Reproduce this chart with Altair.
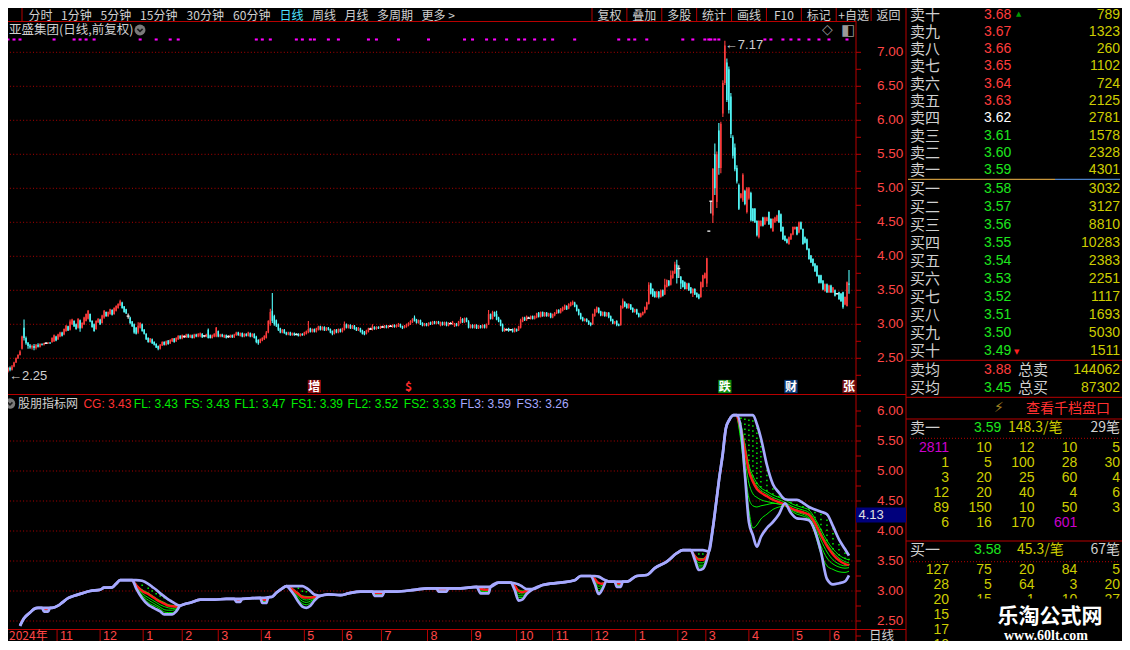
import altair as alt
import pandas as pd
import numpy as np

# ======================= DATA =======================
# daily candles (bar index 0..422)
opens = [2.38, 2.36, 2.31, 2.36, 2.33, 2.38, 2.44, 2.50, 2.55, 2.64,
         2.95, 2.80, 2.73, 2.69, 2.66, 2.68, 2.65, 2.70, 2.67, 2.71,
         2.70, 2.72, 2.72, 2.73, 2.74, 2.75, 2.82, 2.78, 2.82, 2.88,
         2.85, 2.90, 2.97, 2.92, 3.00, 3.05, 3.00, 2.95, 3.06, 2.95,
         3.00, 3.05, 3.08, 3.15, 3.05, 3.00, 2.93, 3.03, 3.07, 3.02,
         3.10, 3.18, 3.12, 3.15, 3.21, 3.15, 3.20, 3.24, 3.28, 3.32,
         3.26, 3.22, 3.12, 3.10, 3.04, 3.00, 2.95, 2.88, 2.95, 3.00,
         2.92, 2.86, 2.80, 2.74, 2.78, 2.74, 2.71, 2.68, 2.64, 2.69,
         2.74, 2.70, 2.76, 2.72, 2.75, 2.79, 2.75, 2.78, 2.83, 2.79,
         2.82, 2.81, 2.85, 2.81, 2.84, 2.80, 2.85, 2.82, 2.83, 2.86,
         2.83, 2.82, 2.92, 2.84, 2.80, 2.82, 2.82, 2.90, 2.82, 2.85,
         2.81, 2.84, 2.82, 2.81, 2.84, 2.81, 2.84, 2.88, 2.83, 2.87,
         2.82, 2.86, 2.83, 2.87, 2.82, 2.86, 2.82, 2.77, 2.73, 2.76,
         2.78, 2.80, 2.88, 3.00, 3.20, 3.12, 3.06, 3.00, 2.94, 2.88,
         2.92, 2.88, 2.85, 2.88, 2.84, 2.87, 2.85, 2.86, 2.83, 2.86,
         2.84, 2.86, 2.88, 2.94, 2.89, 2.93, 2.89, 2.92, 2.97, 2.92,
         2.96, 2.91, 2.95, 2.93, 2.90, 2.86, 2.92, 2.88, 2.93, 2.89,
         2.92, 3.00, 2.95, 2.99, 2.94, 2.98, 2.95, 2.91, 2.94, 2.91,
         2.89, 2.86, 2.89, 2.93, 2.92, 2.96, 2.93, 2.96, 2.94, 2.96,
         2.95, 2.98, 2.95, 2.97, 2.96, 2.99, 2.96, 2.97, 3.00, 2.97,
         2.95, 2.96, 2.98, 3.00, 3.03, 3.10, 3.07, 3.02, 3.06, 3.02,
         2.98, 3.01, 2.98, 3.03, 3.00, 3.04, 3.01, 3.04, 2.98, 3.03,
         2.99, 3.03, 2.98, 3.01, 3.00, 2.97, 3.01, 2.98, 3.02, 3.08,
         3.03, 3.09, 3.04, 2.95, 2.99, 2.95, 2.99, 2.94, 2.98, 2.95,
         2.99, 2.95, 3.00, 3.15, 3.08, 3.18, 3.15, 3.10, 3.06, 3.00,
         2.90, 2.92, 2.94, 2.92, 2.93, 2.89, 2.93, 2.91, 2.95, 3.04,
         3.10, 3.06, 3.09, 3.08, 3.12, 3.08, 3.10, 3.17, 3.11, 3.18,
         3.12, 3.17, 3.12, 3.16, 3.10, 3.13, 3.16, 3.21, 3.17, 3.20,
         3.22, 3.27, 3.23, 3.27, 3.29, 3.32, 3.28, 3.22, 3.16, 3.10,
         3.05, 3.08, 3.05, 3.02, 3.00, 3.12, 3.18, 3.24, 3.19, 3.13,
         3.18, 3.12, 3.17, 3.12, 3.07, 3.01, 3.05, 3.00, 2.99, 3.24,
         3.33, 3.30, 3.24, 3.29, 3.24, 3.18, 3.22, 3.16, 3.11, 3.14,
         3.17, 3.22, 3.30, 3.60, 3.52, 3.48, 3.40, 3.48, 3.40, 3.50,
         3.44, 3.55, 3.64, 3.58, 3.68, 3.75, 3.88, 3.82, 3.70, 3.64,
         3.62, 3.52, 3.60, 3.54, 3.46, 3.52, 3.46, 3.44, 3.40, 3.55,
         3.68, 3.60, 4.37, 4.81, 4.60, 5.50, 4.80, 5.85, 5.30, 6.10,
         6.55, 6.85, 6.75, 6.35, 5.75, 5.60, 5.30, 5.05, 4.86, 4.82,
         4.96, 4.65, 4.85, 4.93, 4.70, 4.70, 4.52, 4.28, 4.45, 4.57,
         4.47, 4.52, 4.65, 4.55, 4.37, 4.50, 4.52, 4.67, 4.62, 4.43,
         4.30, 4.25, 4.18, 4.25, 4.32, 4.40, 4.43, 4.35, 4.50, 4.40,
         4.28, 4.25, 4.11, 4.01, 3.96, 3.89, 3.86, 3.72, 3.72, 3.64,
         3.49, 3.59, 3.47, 3.57, 3.47, 3.50, 3.45, 3.47, 3.45, 3.47,
         3.29, 3.27, 3.60]
closes = [2.36, 2.31, 2.36, 2.33, 2.38, 2.44, 2.50, 2.55, 2.60, 2.82,
          2.80, 2.72, 2.68, 2.66, 2.68, 2.65, 2.70, 2.67, 2.71, 2.70,
          2.72, 2.72, 2.73, 2.72, 2.80, 2.84, 2.76, 2.85, 2.88, 2.83,
          2.93, 2.98, 2.91, 3.04, 3.07, 2.97, 2.93, 3.08, 2.94, 3.02,
          3.10, 3.15, 3.20, 3.04, 2.96, 2.90, 3.05, 3.08, 3.00, 3.13,
          3.20, 3.12, 3.18, 3.22, 3.14, 3.24, 3.27, 3.30, 3.34, 3.24,
          3.18, 3.16, 3.12, 3.02, 2.97, 2.88, 2.86, 2.98, 3.02, 2.90,
          2.86, 2.78, 2.74, 2.79, 2.72, 2.70, 2.66, 2.64, 2.70, 2.74,
          2.70, 2.75, 2.71, 2.77, 2.79, 2.74, 2.80, 2.83, 2.79, 2.84,
          2.82, 2.85, 2.81, 2.84, 2.80, 2.85, 2.82, 2.86, 2.87, 2.81,
          2.83, 2.85, 2.80, 2.80, 2.84, 2.86, 2.95, 2.82, 2.85, 2.82,
          2.84, 2.80, 2.82, 2.84, 2.81, 2.85, 2.88, 2.84, 2.87, 2.82,
          2.86, 2.83, 2.88, 2.82, 2.86, 2.80, 2.74, 2.72, 2.78, 2.80,
          2.83, 2.88, 3.05, 3.18, 3.05, 3.00, 2.98, 2.92, 2.88, 2.92,
          2.87, 2.85, 2.88, 2.84, 2.87, 2.84, 2.85, 2.83, 2.86, 2.84,
          2.88, 2.90, 2.93, 2.89, 2.93, 2.89, 2.94, 2.97, 2.92, 2.96,
          2.91, 2.95, 2.92, 2.88, 2.86, 2.92, 2.88, 2.93, 2.89, 2.94,
          3.00, 2.95, 2.99, 2.94, 2.98, 2.93, 2.91, 2.95, 2.89, 2.86,
          2.85, 2.91, 2.94, 2.93, 2.97, 2.93, 2.96, 2.94, 2.97, 2.96,
          2.98, 2.95, 2.98, 2.97, 2.99, 2.96, 2.99, 3.01, 2.96, 2.94,
          2.98, 3.00, 3.02, 3.05, 3.08, 3.05, 3.02, 3.06, 3.00, 2.98,
          3.01, 2.98, 3.02, 3.00, 3.04, 3.01, 3.04, 3.01, 3.03, 2.99,
          3.03, 2.98, 3.02, 3.01, 3.04, 3.01, 2.98, 3.04, 3.08, 3.03,
          3.09, 3.04, 2.95, 2.99, 2.95, 2.99, 2.94, 2.98, 2.95, 2.99,
          2.95, 3.00, 3.15, 3.08, 3.18, 3.12, 3.07, 3.04, 2.98, 2.90,
          2.94, 2.92, 2.90, 2.92, 2.89, 2.94, 2.90, 2.97, 3.06, 3.10,
          3.06, 3.12, 3.09, 3.12, 3.08, 3.12, 3.16, 3.11, 3.18, 3.12,
          3.17, 3.12, 3.16, 3.10, 3.15, 3.17, 3.21, 3.17, 3.23, 3.25,
          3.28, 3.22, 3.30, 3.32, 3.33, 3.26, 3.20, 3.14, 3.08, 3.05,
          3.08, 3.04, 3.00, 2.99, 3.15, 3.22, 3.25, 3.17, 3.13, 3.18,
          3.12, 3.17, 3.10, 3.05, 3.01, 3.04, 2.99, 2.98, 3.27, 3.35,
          3.26, 3.24, 3.30, 3.22, 3.18, 3.22, 3.15, 3.11, 3.16, 3.18,
          3.25, 3.32, 3.58, 3.45, 3.42, 3.40, 3.48, 3.40, 3.50, 3.42,
          3.58, 3.65, 3.57, 3.72, 3.78, 3.88, 3.68, 3.82, 3.60, 3.55,
          3.52, 3.60, 3.50, 3.46, 3.52, 3.44, 3.40, 3.38, 3.62, 3.72,
          3.75, 3.97, 4.37, 4.81, 5.29, 5.00, 5.50, 5.30, 5.95, 6.55,
          7.10, 6.30, 6.15, 5.80, 5.48, 5.28, 5.10, 4.70, 4.92, 5.20,
          4.77, 5.00, 5.00, 4.53, 4.52, 4.50, 4.31, 4.52, 4.52, 4.45,
          4.57, 4.57, 4.47, 4.42, 4.55, 4.57, 4.60, 4.50, 4.37, 4.25,
          4.23, 4.20, 4.28, 4.33, 4.43, 4.43, 4.32, 4.50, 4.40, 4.18,
          4.20, 4.10, 3.96, 3.91, 3.86, 3.78, 3.71, 3.61, 3.61, 3.51,
          3.59, 3.47, 3.57, 3.47, 3.54, 3.42, 3.45, 3.37, 3.34, 3.25,
          3.40, 3.62, 3.58]
highs = [2.40, 2.37, 2.37, 2.38, 2.40, 2.45, 2.51, 2.56, 2.62, 2.83,
         3.07, 2.82, 2.74, 2.71, 2.70, 2.71, 2.71, 2.72, 2.72, 2.72,
         2.73, 2.74, 2.74, 2.74, 2.81, 2.85, 2.83, 2.86, 2.89, 2.89,
         2.94, 2.99, 2.98, 3.07, 3.08, 3.06, 3.01, 3.09, 3.07, 3.03,
         3.11, 3.16, 3.21, 3.16, 3.06, 3.01, 3.06, 3.09, 3.08, 3.14,
         3.21, 3.19, 3.19, 3.23, 3.22, 3.25, 3.28, 3.31, 3.36, 3.33,
         3.27, 3.23, 3.16, 3.11, 3.05, 3.01, 2.96, 3.03, 3.03, 3.01,
         2.93, 2.87, 2.81, 2.80, 2.79, 2.75, 2.72, 2.69, 2.71, 2.75,
         2.75, 2.76, 2.77, 2.78, 2.80, 2.80, 2.81, 2.84, 2.84, 2.85,
         2.84, 2.86, 2.86, 2.85, 2.85, 2.86, 2.86, 2.87, 2.88, 2.87,
         2.84, 2.86, 2.94, 2.85, 2.85, 2.87, 2.96, 2.91, 2.86, 2.86,
         2.85, 2.85, 2.84, 2.85, 2.85, 2.86, 2.89, 2.89, 2.88, 2.88,
         2.87, 2.87, 2.89, 2.88, 2.87, 2.87, 2.83, 2.78, 2.79, 2.81,
         2.84, 2.90, 3.06, 3.23, 3.46, 3.14, 3.07, 3.01, 2.95, 2.93,
         2.93, 2.89, 2.89, 2.89, 2.88, 2.88, 2.87, 2.87, 2.87, 2.87,
         2.89, 2.91, 3.05, 2.95, 2.94, 2.94, 2.95, 2.98, 2.98, 2.97,
         2.97, 2.96, 2.96, 2.94, 2.91, 2.93, 2.93, 2.94, 2.94, 2.95,
         3.04, 3.01, 3.00, 3.00, 2.99, 2.99, 2.96, 2.96, 2.95, 2.92,
         2.90, 2.92, 2.95, 2.95, 3.00, 2.97, 2.97, 2.97, 2.98, 2.98,
         2.99, 2.99, 2.99, 2.99, 3.00, 3.00, 3.00, 3.02, 3.01, 2.98,
         2.99, 3.01, 3.03, 3.06, 3.09, 3.13, 3.08, 3.07, 3.07, 3.03,
         3.02, 3.02, 3.03, 3.04, 3.05, 3.05, 3.05, 3.05, 3.04, 3.04,
         3.04, 3.04, 3.03, 3.03, 3.05, 3.02, 3.02, 3.05, 3.11, 3.09,
         3.10, 3.10, 3.06, 3.00, 3.00, 3.00, 3.00, 2.99, 2.99, 3.00,
         3.00, 3.01, 3.21, 3.16, 3.20, 3.19, 3.20, 3.11, 3.07, 3.01,
         2.95, 2.94, 2.95, 2.93, 2.94, 2.95, 2.94, 2.98, 3.08, 3.11,
         3.11, 3.13, 3.11, 3.13, 3.13, 3.13, 3.17, 3.18, 3.19, 3.19,
         3.18, 3.18, 3.17, 3.17, 3.16, 3.18, 3.22, 3.22, 3.24, 3.26,
         3.29, 3.28, 3.31, 3.33, 3.35, 3.33, 3.29, 3.23, 3.17, 3.11,
         3.09, 3.09, 3.06, 3.03, 3.16, 3.23, 3.26, 3.25, 3.20, 3.19,
         3.19, 3.18, 3.18, 3.13, 3.08, 3.05, 3.06, 3.01, 3.28, 3.38,
         3.34, 3.31, 3.31, 3.30, 3.25, 3.23, 3.23, 3.17, 3.17, 3.19,
         3.26, 3.33, 3.62, 3.61, 3.53, 3.49, 3.49, 3.49, 3.51, 3.51,
         3.67, 3.66, 3.65, 3.79, 3.79, 3.92, 3.95, 3.87, 3.71, 3.65,
         3.63, 3.61, 3.61, 3.55, 3.53, 3.53, 3.47, 3.45, 3.63, 3.73,
         3.76, 3.98, 4.37, 4.81, 5.29, 5.66, 5.54, 5.96, 5.98, 6.59,
         7.17, 6.91, 6.79, 6.40, 5.78, 5.66, 5.34, 5.07, 4.93, 5.22,
         4.98, 5.02, 5.02, 4.95, 4.71, 4.71, 4.53, 4.53, 4.53, 4.58,
         4.58, 4.58, 4.66, 4.56, 4.56, 4.58, 4.61, 4.68, 4.63, 4.44,
         4.31, 4.26, 4.29, 4.34, 4.44, 4.44, 4.44, 4.51, 4.51, 4.41,
         4.29, 4.26, 4.12, 4.02, 3.97, 3.90, 3.87, 3.73, 3.73, 3.65,
         3.60, 3.60, 3.58, 3.58, 3.55, 3.51, 3.46, 3.48, 3.46, 3.48,
         3.41, 3.63, 3.80]
lows = [2.34, 2.25, 2.29, 2.31, 2.32, 2.37, 2.43, 2.49, 2.54, 2.63,
        2.76, 2.70, 2.64, 2.64, 2.63, 2.62, 2.63, 2.66, 2.66, 2.69,
        2.69, 2.71, 2.71, 2.71, 2.73, 2.74, 2.75, 2.77, 2.81, 2.82,
        2.84, 2.89, 2.90, 2.91, 2.99, 2.96, 2.92, 2.94, 2.89, 2.94,
        2.99, 3.04, 3.07, 3.03, 2.95, 2.89, 2.92, 3.02, 2.99, 3.01,
        3.08, 3.11, 3.11, 3.14, 3.13, 3.14, 3.19, 3.23, 3.27, 3.23,
        3.17, 3.15, 3.08, 3.00, 2.96, 2.86, 2.85, 2.86, 2.94, 2.89,
        2.85, 2.77, 2.73, 2.73, 2.71, 2.69, 2.65, 2.62, 2.63, 2.68,
        2.69, 2.69, 2.70, 2.71, 2.74, 2.73, 2.74, 2.77, 2.78, 2.78,
        2.80, 2.80, 2.80, 2.80, 2.79, 2.79, 2.81, 2.81, 2.81, 2.80,
        2.81, 2.81, 2.79, 2.79, 2.79, 2.81, 2.81, 2.81, 2.81, 2.81,
        2.80, 2.79, 2.80, 2.80, 2.80, 2.80, 2.83, 2.83, 2.82, 2.81,
        2.81, 2.82, 2.82, 2.81, 2.81, 2.79, 2.72, 2.70, 2.72, 2.75,
        2.77, 2.79, 2.87, 2.98, 3.02, 2.98, 2.96, 2.90, 2.87, 2.87,
        2.86, 2.84, 2.84, 2.83, 2.83, 2.83, 2.84, 2.82, 2.82, 2.83,
        2.83, 2.85, 2.87, 2.88, 2.88, 2.88, 2.88, 2.91, 2.91, 2.91,
        2.90, 2.90, 2.91, 2.87, 2.84, 2.85, 2.87, 2.87, 2.88, 2.88,
        2.91, 2.94, 2.94, 2.93, 2.93, 2.92, 2.90, 2.90, 2.88, 2.85,
        2.84, 2.85, 2.88, 2.92, 2.91, 2.92, 2.92, 2.93, 2.93, 2.95,
        2.94, 2.94, 2.94, 2.96, 2.95, 2.95, 2.95, 2.96, 2.95, 2.93,
        2.94, 2.95, 2.97, 2.99, 3.02, 3.04, 3.01, 3.01, 2.99, 2.97,
        2.97, 2.97, 2.97, 2.99, 2.99, 3.00, 3.00, 3.00, 2.97, 2.98,
        2.98, 2.97, 2.97, 3.00, 2.99, 2.96, 2.97, 2.97, 3.01, 3.02,
        3.02, 3.03, 2.94, 2.94, 2.94, 2.94, 2.93, 2.93, 2.94, 2.94,
        2.94, 2.94, 2.99, 3.07, 3.07, 3.11, 3.06, 3.03, 2.97, 2.89,
        2.89, 2.91, 2.89, 2.91, 2.88, 2.88, 2.89, 2.90, 2.94, 3.03,
        3.05, 3.05, 3.08, 3.07, 3.07, 3.07, 3.09, 3.10, 3.10, 3.11,
        3.11, 3.11, 3.11, 3.09, 3.09, 3.12, 3.15, 3.16, 3.16, 3.19,
        3.21, 3.21, 3.22, 3.26, 3.28, 3.25, 3.19, 3.13, 3.07, 3.04,
        3.04, 3.03, 2.99, 2.97, 2.99, 3.11, 3.17, 3.16, 3.12, 3.12,
        3.11, 3.11, 3.09, 3.04, 3.00, 3.00, 2.97, 2.97, 2.98, 3.23,
        3.25, 3.23, 3.23, 3.21, 3.17, 3.17, 3.14, 3.10, 3.10, 3.13,
        3.16, 3.21, 3.29, 3.44, 3.40, 3.39, 3.39, 3.38, 3.39, 3.41,
        3.43, 3.54, 3.56, 3.57, 3.67, 3.74, 3.60, 3.68, 3.52, 3.54,
        3.51, 3.51, 3.49, 3.45, 3.40, 3.43, 3.39, 3.37, 3.39, 3.54,
        3.67, 3.55, 4.37, 4.63, 4.49, 4.90, 4.71, 5.20, 5.22, 6.05,
        6.52, 6.27, 6.10, 5.74, 5.44, 5.25, 5.07, 4.68, 4.85, 4.80,
        4.75, 4.63, 4.83, 4.51, 4.51, 4.49, 4.29, 4.26, 4.44, 4.44,
        4.46, 4.51, 4.46, 4.41, 4.36, 4.49, 4.51, 4.49, 4.36, 4.24,
        4.22, 4.19, 4.17, 4.24, 4.31, 4.39, 4.31, 4.34, 4.39, 4.17,
        4.19, 4.09, 3.95, 3.90, 3.85, 3.77, 3.70, 3.60, 3.60, 3.50,
        3.48, 3.46, 3.46, 3.46, 3.46, 3.41, 3.44, 3.36, 3.33, 3.23,
        3.28, 3.26, 3.45]

# magenta signal marks (bar index)
signal_bars = [0, 2, 5, 8, 25, 35, 38, 41, 45, 68, 76, 83, 87, 126, 129, 133, 146, 149,
               153, 155, 162, 167, 182, 186, 197, 212, 230, 234, 241, 245, 251, 257, 260,
               265, 270, 274, 285, 307, 312, 315, 321, 339, 344, 350, 352, 353, 355, 357,
               380, 383, 389, 393, 397, 402, 407, 412, 421]

# month boundaries (bar index) and their labels
month_i = [-1, 26.5, 48, 69.5, 89, 107, 128.5, 150, 169, 188.5, 211.5, 233.5, 256, 274,
           293.5, 315.5, 336.5, 350.5, 372, 394, 412.5]
month_lbl = ["2024年", "11", "12", "1", "2", "3", "4", "5", "6", "7", "8", "9", "10", "11",
             "12", "1", "2", "3", "4", "5", "6"]

# event badges
event_i = [155, 202, 360, 393, 422]
event_lbl = ["增", "$", "跌", "财", "张"]
event_kind = ["inc", "div", "fall", "fin", "inc2"]

price_ticks_main = [7.0, 6.5, 6.0, 5.5, 5.0, 4.5, 4.0, 3.5, 3.0, 2.5]
price_ticks_ind = [6.0, 5.5, 5.0, 4.5, 4.0, 3.5, 3.0, 2.5]

# indicator: collapsed lavender line (all lines equal)
lav_i = [8, 10, 13, 15, 17, 24, 27, 29, 32, 35, 39, 43, 48, 50, 54, 56, 58, 61, 90, 93, 98,
         105, 111, 124, 134, 136, 139, 162, 168, 172, 178, 196, 205, 212, 228, 247, 269, 278,
         285, 288, 302, 311, 316, 321, 325, 331, 336, 339, 354, 355.5, 357.2, 358.9, 360.5,
         362.2, 364.4]
lav_v = [2.42, 2.545, 2.64, 2.70, 2.72, 2.72, 2.755, 2.805, 2.88, 2.92, 2.96, 3.00, 3.02,
         3.055, 3.06, 3.12, 3.18, 3.18, 2.78, 2.805, 2.855, 2.855, 2.87, 2.88, 2.905, 2.97,
         3.045, 2.945, 2.93, 2.96, 2.99, 2.99, 3.02, 3.045, 3.045, 3.14, 3.10, 3.14, 3.18,
         3.25, 3.155, 3.155, 3.25, 3.267, 3.38, 3.49, 3.63, 3.68, 4.045, 4.43, 4.88, 5.27,
         5.71, 5.85, 5.93]

# indicator: segments where the band opens
seg_names = ["E", "A", "F", "G", "B", "H", "I", "J", "C", "K", "L", "D", "M"]
seg_i = [[19, 20, 22, 23],
         [64, 66, 69, 72, 74, 76, 78, 80, 82, 84, 86, 88],
         [115, 116, 118, 119],
         [128, 129, 131, 132],
         [141, 143, 145, 147, 149, 151, 153, 155, 158],
         [184, 185, 189, 190],
         [216, 217, 221, 222],
         [236, 238, 240, 242, 243],
         [253, 255, 257, 259, 261, 264],
         [293, 295, 297, 299, 301],
         [305, 306, 308, 309],
         [343, 345, 347, 349, 351, 352],
         [366, 368, 370, 372, 374, 376, 378, 381, 384, 387, 390, 393, 396, 399, 402, 405,
          408, 411, 414, 417, 420, 422]]
seg_fl3 = [[2.72, 2.72, 2.72, 2.72],
           [3.18, 3.18, 3.17, 3.12, 3.07, 3.02, 2.96, 2.91, 2.86, 2.82, 2.78, 2.755],
           [2.87, 2.87, 2.87, 2.87],
           [2.885, 2.885, 2.89, 2.895],
           [3.08, 3.08, 3.08, 3.08, 3.08, 3.05, 3.00, 2.94, 2.92],
           [2.99, 2.99, 2.99, 2.99],
           [3.045, 3.045, 3.045, 3.045],
           [3.07, 3.07, 3.07, 3.07, 3.07],
           [3.14, 3.13, 3.11, 3.07, 3.03, 3.03],
           [3.25, 3.25, 3.24, 3.20, 3.17],
           [3.155, 3.155, 3.155, 3.155],
           [3.68, 3.68, 3.68, 3.68, 3.665, 3.655],
           [5.93, 5.93, 5.93, 5.93, 5.93, 5.78, 5.55, 5.10, 4.78, 4.64, 4.53, 4.52, 4.52,
            4.47, 4.40, 4.36, 4.32, 4.28, 4.08, 3.86, 3.70, 3.59]]
seg_fl2 = [[2.72, 2.72, 2.72, 2.72],
           [3.18, 3.11, 3.02, 2.97, 2.925, 2.88, 2.84, 2.81, 2.775, 2.76, 2.75, 2.755],
           [2.87, 2.87, 2.87, 2.87],
           [2.885, 2.885, 2.89, 2.895],
           [3.08, 3.065, 3.02, 2.97, 2.92, 2.91, 2.905, 2.91, 2.92],
           [2.99, 2.99, 2.99, 2.99],
           [3.045, 3.045, 3.045, 3.045],
           [3.07, 3.07, 3.07, 3.07, 3.07],
           [3.14, 3.10, 3.02, 3.00, 3.01, 3.03],
           [3.25, 3.25, 3.24, 3.20, 3.17],
           [3.155, 3.155, 3.155, 3.155],
           [3.68, 3.60, 3.545, 3.54, 3.60, 3.655],
           [5.93, 5.78, 5.45, 5.10, 4.92, 4.80, 4.72, 4.66, 4.60, 4.56, 4.52, 4.46, 4.42,
            4.39, 4.35, 4.21, 4.02, 3.84, 3.70, 3.60, 3.54, 3.52]]
seg_fl1 = [[2.72, 2.72, 2.72, 2.72],
           [3.18, 3.105, 3.01, 2.96, 2.915, 2.87, 2.83, 2.80, 2.765, 2.75, 2.745, 2.755],
           [2.87, 2.87, 2.87, 2.87],
           [2.885, 2.885, 2.89, 2.895],
           [3.08, 3.06, 3.01, 2.96, 2.91, 2.90, 2.90, 2.905, 2.92],
           [2.99, 2.99, 2.99, 2.99],
           [3.045, 3.045, 3.045, 3.045],
           [3.07, 3.07, 3.07, 3.07, 3.07],
           [3.14, 3.095, 3.01, 2.99, 3.005, 3.03],
           [3.25, 3.25, 3.24, 3.20, 3.17],
           [3.155, 3.155, 3.155, 3.155],
           [3.68, 3.59, 3.53, 3.53, 3.59, 3.655],
           [5.93, 5.74, 5.40, 5.05, 4.87, 4.75, 4.68, 4.62, 4.56, 4.52, 4.48, 4.42, 4.38,
            4.35, 4.31, 4.17, 3.97, 3.79, 3.65, 3.55, 3.49, 3.47]]
seg_cg = [[2.72, 2.70, 2.695, 2.72],
          [3.18, 3.10, 3.00, 2.95, 2.905, 2.86, 2.82, 2.79, 2.755, 2.745, 2.74, 2.755],
          [2.87, 2.855, 2.85, 2.87],
          [2.885, 2.86, 2.85, 2.895],
          [3.08, 3.055, 3.00, 2.95, 2.90, 2.89, 2.89, 2.90, 2.92],
          [2.99, 2.97, 2.965, 2.99],
          [3.045, 3.03, 3.025, 3.045],
          [3.07, 3.04, 3.02, 3.02, 3.07],
          [3.14, 3.09, 3.00, 2.98, 3.00, 3.03],
          [3.25, 3.20, 3.13, 3.12, 3.17],
          [3.155, 3.13, 3.125, 3.155],
          [3.68, 3.58, 3.52, 3.52, 3.58, 3.655],
          [5.93, 5.70, 5.35, 5.00, 4.82, 4.70, 4.64, 4.58, 4.52, 4.48, 4.44, 4.38, 4.34,
           4.31, 4.27, 4.13, 3.93, 3.75, 3.61, 3.51, 3.45, 3.43]]
seg_fs = [[2.72, 2.685, 2.68, 2.72],
          [3.18, 3.08, 2.96, 2.89, 2.85, 2.81, 2.77, 2.74, 2.72, 2.71, 2.72, 2.755],
          [2.87, 2.845, 2.84, 2.87],
          [2.885, 2.845, 2.835, 2.895],
          [3.08, 3.05, 2.98, 2.92, 2.87, 2.85, 2.86, 2.88, 2.92],
          [2.99, 2.96, 2.955, 2.99],
          [3.045, 3.02, 3.015, 3.045],
          [3.07, 3.02, 3.00, 3.00, 3.07],
          [3.14, 3.07, 2.96, 2.95, 2.99, 3.03],
          [3.25, 3.18, 3.08, 3.10, 3.17],
          [3.155, 3.11, 3.105, 3.155],
          [3.68, 3.56, 3.47, 3.47, 3.56, 3.655],
          [5.93, 5.65, 5.20, 4.80, 4.62, 4.56, 4.52, 4.49, 4.47, 4.45, 4.42, 4.37, 4.33,
           4.30, 4.25, 4.08, 3.85, 3.65, 3.52, 3.45, 3.42, 3.43]]
seg_fs1 = [[2.72, 2.675, 2.67, 2.72],
           [3.18, 3.07, 2.93, 2.85, 2.81, 2.77, 2.73, 2.69, 2.68, 2.68, 2.70, 2.755],
           [2.87, 2.835, 2.83, 2.87],
           [2.885, 2.83, 2.82, 2.895],
           [3.08, 3.04, 2.96, 2.89, 2.83, 2.81, 2.83, 2.87, 2.92],
           [2.99, 2.945, 2.94, 2.99],
           [3.045, 3.01, 3.005, 3.045],
           [3.07, 3.00, 2.985, 2.99, 3.07],
           [3.14, 3.05, 2.92, 2.92, 2.97, 3.03],
           [3.25, 3.16, 3.04, 3.08, 3.17],
           [3.155, 3.095, 3.09, 3.155],
           [3.68, 3.55, 3.43, 3.43, 3.55, 3.655],
           [5.93, 5.55, 5.00, 4.55, 4.42, 4.40, 4.42, 4.44, 4.46, 4.45, 4.42, 4.36, 4.31,
            4.28, 4.22, 4.02, 3.75, 3.55, 3.45, 3.40, 3.38, 3.39]]
seg_fs2 = [[2.72, 2.665, 2.66, 2.72],
           [3.18, 3.06, 2.91, 2.81, 2.77, 2.74, 2.70, 2.65, 2.64, 2.64, 2.68, 2.755],
           [2.87, 2.83, 2.825, 2.87],
           [2.885, 2.815, 2.81, 2.895],
           [3.08, 3.03, 2.95, 2.86, 2.79, 2.77, 2.80, 2.86, 2.92],
           [2.99, 2.93, 2.93, 2.99],
           [3.045, 3.00, 2.995, 3.045],
           [3.07, 2.985, 2.97, 2.975, 3.07],
           [3.14, 3.04, 2.89, 2.89, 2.96, 3.03],
           [3.25, 3.14, 3.00, 3.06, 3.17],
           [3.155, 3.08, 3.08, 3.155],
           [3.68, 3.53, 3.40, 3.40, 3.54, 3.655],
           [5.93, 5.50, 4.90, 4.35, 4.05, 4.10, 4.20, 4.28, 4.36, 4.40, 4.42, 4.34, 4.28,
            4.25, 4.20, 3.95, 3.62, 3.42, 3.36, 3.32, 3.31, 3.33]]
seg_fs3 = [[2.72, 2.655, 2.655, 2.72],
           [3.18, 3.045, 2.88, 2.77, 2.73, 2.695, 2.66, 2.61, 2.61, 2.61, 2.66, 2.755],
           [2.87, 2.82, 2.82, 2.87],
           [2.885, 2.80, 2.80, 2.895],
           [3.08, 3.02, 2.93, 2.82, 2.74, 2.72, 2.755, 2.84, 2.92],
           [2.99, 2.92, 2.92, 2.99],
           [3.045, 2.99, 2.99, 3.045],
           [3.07, 2.96, 2.96, 2.96, 3.07],
           [3.14, 3.02, 2.84, 2.86, 2.95, 3.03],
           [3.25, 3.12, 2.95, 3.04, 3.17],
           [3.155, 3.07, 3.07, 3.155],
           [3.68, 3.52, 3.35, 3.37, 3.52, 3.655],
           [5.93, 5.71, 4.95, 4.15, 3.93, 3.74, 3.90, 4.05, 4.15, 4.28, 4.46, 4.30, 4.21,
            4.20, 4.18, 4.00, 3.65, 3.20, 3.11, 3.13, 3.16, 3.26]]

legend_names = ["CG", "FL", "FS", "FL1", "FS1", "FL2", "FS2", "FL3", "FS3"]
legend_vals = [3.43, 3.43, 3.43, 3.47, 3.39, 3.52, 3.33, 3.59, 3.26]
legend_kind = ["cg", "g", "g", "g", "g", "g", "g", "lav", "lav"]

# order book
prev_close = 3.62
sell_lbl = ["卖十", "卖九", "卖八", "卖七", "卖六", "卖五", "卖四", "卖三", "卖二", "卖一"]
sell_px = [3.68, 3.67, 3.66, 3.65, 3.64, 3.63, 3.62, 3.61, 3.60, 3.59]
sell_vol = [789, 1323, 260, 1102, 724, 2125, 2781, 1578, 2328, 4301]
buy_lbl = ["买一", "买二", "买三", "买四", "买五", "买六", "买七", "买八", "买九", "买十"]
buy_px = [3.58, 3.57, 3.56, 3.55, 3.54, 3.53, 3.52, 3.51, 3.50, 3.49]
buy_vol = [3032, 3127, 8810, 10283, 2383, 2251, 1117, 1693, 5030, 1511]
avg_lbl = ["卖均", "买均"]
avg_px = [3.88, 3.45]
tot_lbl = ["总卖", "总买"]
tot_vol = [144062, 87302]
sell_queue = [2811, 10, 12, 10, 5, 1, 5, 100, 28, 30, 3, 20, 25, 60, 4,
              12, 20, 40, 4, 6, 89, 150, 10, 50, 3, 6, 16, 170, 601]
buy_queue = [127, 75, 20, 84, 5, 28, 5, 64, 3, 20, 20, 15, 1, 10, 27,
             15, None, None, None, None, 17, None, None, None, None, 10, None, None, None, None]

toolbar_left = ["分时", "1分钟", "5分钟", "15分钟", "30分钟", "60分钟", "日线", "周线", "月线", "多周期", "更多 >"]
toolbar_right = ["复权", "叠加", "多股", "统计", "画线", "F10", "标记", "+自选", "返回"]

# ======================= STYLE / LAYOUT =======================
OX, OY = 8, 8          # page margin: reference pixel -> chart pixel
W, H = 1114, 633


def X(v):
    return v - OX


def Y(v):
    return v - OY


BG = "#000000"
FRAME = "#b80000"
GRID = "#b00000"
AXRED = "#ff4646"
UP = "#ff3c3c"
DOWN = "#54fcfc"
FLAT = "#f0f0f0"
LAV = "#a6a9ff"
CGC = "#ff1a1a"
GRN = "#00f000"
MAG = "#ff00ff"
TXT = "#d0d0d0"
YEL = "#cdcd00"
BGRN = "#1ee61e"
BRED = "#ff3c3c"
ACT = "#4fe3ff"
CJK = "Noto Sans CJK SC"
NUM = "Liberation Sans"


def sc(domain, rng):
    return alt.Scale(domain=domain, range=rng, nice=False, zero=False)


XB = sc([0, 422], [X(4), X(849)])
YM = sc([2.5, 7.0], [Y(358.3), Y(52.3)])
YI = sc([2.5, 6.0], [Y(621.0), Y(411.0)])
DIRS = alt.Scale(domain=["up", "down", "flat"], range=[UP, DOWN, FLAT])

ONE = pd.DataFrame({"k": [0]})
layers = []


def text_at(s, x, y, color=TXT, size=12, font=CJK, align="left", weight="normal"):
    return alt.Chart(pd.DataFrame({"t": [s]})).mark_text(
        align=align, baseline="middle", color=color, fontSize=size, font=font,
        fontWeight=weight).encode(x=alt.value(X(x)), y=alt.value(Y(y)), text="t:N")


def hline(y, x1, x2, color=FRAME, w=1.0, dash=None):
    kw = dict(color=color, strokeWidth=w)
    if dash:
        kw["strokeDash"] = dash
    return alt.Chart(ONE).mark_rule(**kw).encode(
        x=alt.value(X(x1)), x2=alt.value(X(x2)), y=alt.value(Y(y)))


def vline(x, y1, y2, color=FRAME, w=1.0):
    return alt.Chart(ONE).mark_rule(color=color, strokeWidth=w).encode(
        x=alt.value(X(x)), y=alt.value(Y(y1)), y2=alt.value(Y(y2)))


def box(x1, x2, y1, y2, fill):
    return alt.Chart(ONE).mark_rect(color=fill).encode(
        x=alt.value(X(x1)), x2=alt.value(X(x2)), y=alt.value(Y(y1)), y2=alt.value(Y(y2)))


def est_w(s, cjk=12.0, asc=7.0, sp=3.5):
    w = 0.0
    for ch in s:
        if ord(ch) > 0x2E80:
            w += cjk
        elif ch == " ":
            w += sp
        else:
            w += asc
    return w


# ---------------- frame lines ----------------
layers += [
    hline(21.5, 0, 856),
    vline(22, 0, 21),
    vline(856, 21, 646),
    vline(906, 0, 650),
    hline(394.5, 0, 906),
    hline(629.5, 0, 906),
    hline(646, 0, 906),
]

# ---------------- toolbar ----------------
TB_Y = 16.0
xpos = 28.6
for lbl in toolbar_left:
    layers.append(text_at(lbl, xpos, TB_Y, ACT if lbl == "日线" else TXT, size=12))
    xpos += est_w(lbl) + 8.5

BTN = alt.Scale(domain=toolbar_right, range=[X(592), X(906)], paddingInner=0, paddingOuter=0)
tdf = pd.DataFrame({"b": toolbar_right})
layers.append(alt.Chart(tdf).mark_rule(color=FRAME).encode(
    x=alt.X("b:N", scale=BTN, axis=None, bandPosition=0),
    y=alt.value(Y(0)), y2=alt.value(Y(21))))
layers.append(alt.Chart(tdf).mark_text(font=CJK, fontSize=12, color=TXT, baseline="middle").encode(
    x=alt.X("b:N", scale=BTN, axis=None, bandPosition=0.5),
    y=alt.value(Y(TB_Y)), text="b:N"))

# ---------------- title row ----------------
layers.append(text_at("亚盛集团(日线,前复权)", 9, 30, TXT, size=12.5))
layers.append(alt.Chart(ONE).mark_point(shape="circle", filled=True, size=120, color="#7a7a7a", opacity=1).encode(
    x=alt.value(X(140)), y=alt.value(Y(30))))
layers.append(alt.Chart(ONE).mark_point(shape="M-0.55,-0.25L0,0.3L0.55,-0.25", filled=False, size=90,
                                        color="#1a1a1a", strokeWidth=1.6, opacity=1).encode(
    x=alt.value(X(140)), y=alt.value(Y(30))))
layers.append(text_at("◇", 822, 29.5, "#9a9a9a", size=14, font="DejaVu Sans"))
layers.append(text_at("◧", 841, 29.5, "#9a9a9a", size=15, font="DejaVu Sans"))

# ---------------- main panel grid / axis ----------------
mg = pd.DataFrame({"p": price_ticks_main})
layers.append(alt.Chart(mg).mark_rule(color=GRID, strokeDash=[1, 2.3], strokeWidth=1).encode(
    y=alt.Y("p:Q", scale=YM, axis=None), x=alt.value(X(0)), x2=alt.value(X(855))))
layers.append(alt.Chart(mg).mark_text(align="left", baseline="middle", font=NUM, fontSize=13.5, color=AXRED).encode(
    y=alt.Y("p:Q", scale=YM, axis=None), x=alt.value(X(877)), text=alt.Text("p:Q", format=".2f")))
mticks = pd.DataFrame({"p": [p - 0.25 for p in price_ticks_main] + price_ticks_main})
layers.append(alt.Chart(mticks).mark_rule(color=FRAME).encode(
    y=alt.Y("p:Q", scale=YM, axis=None), x=alt.value(X(856)), x2=alt.value(X(861))))

# ---------------- candles ----------------
n = min(len(opens), len(highs), len(lows), len(closes))
cdf = pd.DataFrame({"i": np.arange(n), "o": opens[:n], "h": highs[:n], "l": lows[:n], "c": closes[:n]})
cdf["d"] = np.where(cdf["c"] > cdf["o"], "up", np.where(cdf["c"] < cdf["o"], "down", "flat"))
xi = alt.X("i:Q", scale=XB, axis=None)
dcol = alt.Color("d:N", scale=DIRS, legend=None)
layers.append(alt.Chart(cdf).mark_rule(strokeWidth=1.1).encode(
    x=xi, y=alt.Y("l:Q", scale=YM, axis=None), y2="h:Q", color=dcol))
layers.append(alt.Chart(cdf).mark_rule(strokeWidth=1.5).encode(
    x=xi, y=alt.Y("o:Q", scale=YM, axis=None), y2="c:Q", color=dcol))
layers.append(alt.Chart(cdf).transform_filter("datum.d == 'flat'").mark_point(
    shape="M-1,-0.45L1,-0.45L1,0.45L-1,0.45Z", filled=True, size=9, opacity=1).encode(
    x=xi, y=alt.Y("c:Q", scale=YM, axis=None), color=dcol))

# extreme labels
lo_i = int(np.argmin(cdf["l"]))
hi_i = int(np.argmax(cdf["h"]))
ext = pd.DataFrame({"i": [lo_i, hi_i], "p": [cdf["l"].iloc[lo_i], cdf["h"].iloc[hi_i]],
                    "t": ["←%.2f" % cdf["l"].iloc[lo_i], "←%.2f" % cdf["h"].iloc[hi_i]]})
layers.append(alt.Chart(ext.iloc[[0]]).mark_text(align="left", baseline="middle", font=NUM, fontSize=13,
                                                color=TXT, dx=3, dy=1).encode(
    x=xi, y=alt.Y("p:Q", scale=YM, axis=None), text="t:N"))
layers.append(alt.Chart(ext.iloc[[1]]).mark_text(align="left", baseline="middle", font=NUM, fontSize=13,
                                                color=TXT, dx=0, dy=4).encode(
    x=xi, y=alt.Y("p:Q", scale=YM, axis=None), text="t:N"))

# magenta signal row
sdf = pd.DataFrame({"i": signal_bars})
layers.append(alt.Chart(sdf).mark_point(shape="M-1,-0.7L1,-0.7L1,0.7L-1,0.7Z", filled=True, size=9,
                                        color=MAG, opacity=1).encode(x=xi, y=alt.value(Y(39.5))))

# event badges
edf = pd.DataFrame({"i": event_i, "t": event_lbl, "k": event_kind})
EVB = alt.Scale(domain=["inc", "div", "fall", "fin", "inc2"],
                range=["#8c0c0c", "#000000", "#0c8a0c", "#0c3c7c", "#7c1010"])
EVT = alt.Scale(domain=["inc", "div", "fall", "fin", "inc2"],
                range=["#ffffff", "#ff2a2a", "#ffffff", "#ffffff", "#ffffff"])
layers.append(alt.Chart(edf).transform_filter("datum.k != 'div'").mark_point(
    shape="square", filled=True, size=175, opacity=1).encode(
    x=xi, y=alt.value(Y(386.5)), color=alt.Color("k:N", scale=EVB, legend=None)))
layers.append(alt.Chart(edf).mark_text(font=CJK, fontSize=12, baseline="middle", fontWeight="bold").encode(
    x=xi, y=alt.value(Y(386.5)), text="t:N", color=alt.Color("k:N", scale=EVT, legend=None)))

# ---------------- indicator panel ----------------
ig = pd.DataFrame({"p": [p for p in price_ticks_ind if p < 6.0]})
layers.append(alt.Chart(ig).mark_rule(color=GRID, strokeDash=[1, 2.3], strokeWidth=1).encode(
    y=alt.Y("p:Q", scale=YI, axis=None), x=alt.value(X(0)), x2=alt.value(X(855))))
il = pd.DataFrame({"p": price_ticks_ind})
layers.append(alt.Chart(il).mark_text(align="left", baseline="middle", font=NUM, fontSize=13.5, color=AXRED).encode(
    y=alt.Y("p:Q", scale=YI, axis=None), x=alt.value(X(877)), text=alt.Text("p:Q", format=".2f")))
iticks = pd.DataFrame({"p": [p - 0.25 for p in price_ticks_ind] + price_ticks_ind})
layers.append(alt.Chart(iticks).mark_rule(color=FRAME).encode(
    y=alt.Y("p:Q", scale=YI, axis=None), x=alt.value(X(856)), x2=alt.value(X(861))))

rows = []
for name, ii, a3, a2, a1, c0, s0, s1, s2, s3 in zip(seg_names, seg_i, seg_fl3, seg_fl2, seg_fl1, seg_cg,
                                                     seg_fs, seg_fs1, seg_fs2, seg_fs3):
    m = min(len(ii), len(a3), len(a2), len(a1), len(c0), len(s0), len(s1), len(s2), len(s3))
    for k in range(m):
        rows.append(dict(seg=name, i=ii[k], fl3=a3[k], fl2=a2[k], fl1=a1[k], cg=c0[k],
                         fs=s0[k], fs1=s1[k], fs2=s2[k], fs3=s3[k]))
bdf = pd.DataFrame(rows)
lav = pd.DataFrame({"i": lav_i, "v": lav_v})
upper = pd.concat([lav, bdf[["i", "fl3"]].rename(columns={"fl3": "v"})]).sort_values("i").reset_index(drop=True)
lower = pd.concat([lav, bdf[["i", "fs3"]].rename(columns={"fs3": "v"})]).sort_values("i").reset_index(drop=True)

# dotted region between CG and FL3
layers.append(alt.Chart(bdf).transform_filter("datum.fl3 - datum.cg > 0.03").mark_rule(
    color=GRN, strokeWidth=1.5, strokeDash=[1.5, 3.5]).encode(
    x=xi, y=alt.Y("cg:Q", scale=YI, axis=None), y2="fl3:Q"))
# green FL/FS lines
layers.append(alt.Chart(bdf).transform_fold(["fl2", "fl1", "fs", "fs1", "fs2"], as_=["key", "val"]).mark_line(
    color=GRN, strokeWidth=1, interpolate="monotone").encode(
    x=xi, y=alt.Y("val:Q", scale=YI, axis=None), detail=["seg:N", "key:N"]))
# CG red
layers.append(alt.Chart(bdf).mark_line(color=CGC, strokeWidth=2.4, interpolate="monotone").encode(
    x=xi, y=alt.Y("cg:Q", scale=YI, axis=None), detail="seg:N"))
# lavender envelope
layers.append(alt.Chart(lower).mark_line(color=LAV, strokeWidth=2.7, interpolate="monotone").encode(
    x=xi, y=alt.Y("v:Q", scale=YI, axis=None)))
layers.append(alt.Chart(upper).mark_line(color=LAV, strokeWidth=2.7, interpolate="monotone").encode(
    x=xi, y=alt.Y("v:Q", scale=YI, axis=None)))

# indicator header
layers.append(alt.Chart(ONE).mark_point(shape="circle", filled=True, size=110, color="#7a7a7a", opacity=1).encode(
    x=alt.value(X(10)), y=alt.value(Y(403.5))))
layers.append(alt.Chart(ONE).mark_point(shape="M-0.55,-0.25L0,0.3L0.55,-0.25", filled=False, size=80,
                                        color="#1a1a1a", strokeWidth=1.5, opacity=1).encode(
    x=alt.value(X(10)), y=alt.value(Y(403.5))))
layers.append(text_at("股朋指标网", 18, 403.5, TXT, size=12))
LEGC = {"cg": "#ff3232", "g": "#00ee00", "lav": "#a6a9ff"}
xpos = 83.4
for nm, v, kd in zip(legend_names, legend_vals, legend_kind):
    s = "%s: %.2f" % (nm, v)
    layers.append(text_at(s, xpos, 403.5, LEGC[kd], size=12, font=NUM))
    xpos += 6.0 * len(s) + 2.4

# crosshair value box
layers.append(box(856, 906, 507.5, 522.5, "#00007c"))
layers.append(text_at("4.13", 858.5, 515, "#e0e0e0", size=13, font=NUM))

# ---------------- date axis ----------------
DATE_Y = 635.5
mdf = pd.DataFrame({"i": month_i[1:], "m": month_lbl[1:]})
layers.append(alt.Chart(mdf).mark_rule(color=FRAME).encode(
    x=xi, y=alt.value(Y(630)), y2=alt.value(Y(646))))
layers.append(alt.Chart(mdf).mark_text(align="left", baseline="middle", font=NUM, fontSize=12.5,
                                       color=AXRED, dx=3).encode(x=xi, y=alt.value(Y(DATE_Y)), text="m:N"))
layers.append(text_at(month_lbl[0], 9, DATE_Y, AXRED, size=12))
layers.append(text_at("日线", 869, DATE_Y, TXT, size=12.5))

# ---------------- order book ----------------
book_s = pd.DataFrame({"r": np.arange(10), "lbl": sell_lbl, "p": sell_px, "v": sell_vol})
book_b = pd.DataFrame({"r": np.arange(10), "lbl": buy_lbl, "p": buy_px, "v": buy_vol})
PXC = alt.Scale(domain=["up", "down", "flat"], range=[BRED, BGRN, "#ffffff"])
for bk, y0, y1 in [(book_s, 14.5, 170.3), (book_b, 189.3, 351.3)]:
    bk["d"] = np.where(bk["p"] > prev_close, "up", np.where(bk["p"] < prev_close, "down", "flat"))
    yr = alt.Y("r:Q", scale=sc([0, 9], [Y(y0), Y(y1)]), axis=None)
    layers.append(alt.Chart(bk).mark_text(align="left", baseline="middle", font=CJK, fontSize=15, color=TXT).encode(
        x=alt.value(X(910)), y=yr, text="lbl:N"))
    layers.append(alt.Chart(bk).mark_text(align="left", baseline="middle", font=NUM, fontSize=14).encode(
        x=alt.value(X(984)), y=yr, text=alt.Text("p:Q", format=".2f"),
        color=alt.Color("d:N", scale=PXC, legend=None)))
    layers.append(alt.Chart(bk).mark_text(align="right", baseline="middle", font=NUM, fontSize=14, color=YEL).encode(
        x=alt.value(X(1120)), y=yr, text=alt.Text("v:Q", format="d")))
layers.append(text_at("▲", 1016, 14, "#009a00", size=7, font="DejaVu Sans"))
layers.append(text_at("▼", 1014, 352, "#ff2020", size=7, font="DejaVu Sans"))
layers.append(hline(179.3, 908, 1055, "#c8963c", 1.2))
layers.append(hline(179.3, 1055, 1120, "#4a80c8", 1.2))
layers.append(hline(360.3, 906, 1122))
layers.append(hline(397.3, 906, 1122))

avg = pd.DataFrame({"r": [0, 1], "lbl": avg_lbl, "p": avg_px, "t": tot_lbl, "v": tot_vol})
avg["d"] = np.where(avg["p"] > prev_close, "up", np.where(avg["p"] < prev_close, "down", "flat"))
YA = sc([0, 1], [Y(370), Y(388.3)])
ya = alt.Y("r:Q", scale=YA, axis=None)
layers.append(alt.Chart(avg).mark_text(align="left", baseline="middle", font=CJK, fontSize=15, color=TXT).encode(
    x=alt.value(X(910)), y=ya, text="lbl:N"))
layers.append(alt.Chart(avg).mark_text(align="left", baseline="middle", font=NUM, fontSize=14).encode(
    x=alt.value(X(984)), y=ya, text=alt.Text("p:Q", format=".2f"),
    color=alt.Color("d:N", scale=PXC, legend=None)))
layers.append(alt.Chart(avg).mark_text(align="left", baseline="middle", font=CJK, fontSize=15, color=TXT).encode(
    x=alt.value(X(1018)), y=ya, text="t:N"))
layers.append(alt.Chart(avg).mark_text(align="right", baseline="middle", font=NUM, fontSize=14, color=YEL).encode(
    x=alt.value(X(1120)), y=ya, text=alt.Text("v:Q", format="d")))

# thousand-level panel
layers.append(text_at("⚡", 994, 408, "#a08020", size=14, font="DejaVu Sans"))
layers.append(text_at("查看千档盘口", 1068, 408.5, "#ff3030", size=14, align="center"))
layers.append(hline(419, 906, 1122))
layers.append(text_at("卖一", 910, 428.3, TXT, size=15))
layers.append(text_at("3.59", 974, 428.3, BGRN, size=14, font=NUM))
layers.append(text_at("148.3/笔", 1008, 428.3, YEL, size=14))
layers.append(text_at("29笔", 1120, 428.3, TXT, size=14, align="right"))
layers.append(hline(438.3, 910, 1120, FRAME, 1, [1, 2]))
layers.append(hline(541, 906, 1122))
layers.append(text_at("买一", 910, 550, TXT, size=15))
layers.append(text_at("3.58", 974, 550, BGRN, size=14, font=NUM))
layers.append(text_at("45.3/笔", 1017, 550, YEL, size=14))
layers.append(text_at("67笔", 1120, 550, TXT, size=14, align="right"))
layers.append(hline(561.7, 910, 1120, FRAME, 1, [1, 2]))


def queue_df(vals):
    df = pd.DataFrame({"k": np.arange(len(vals)), "v": vals}).dropna()
    df["r"] = df["k"] // 5
    df["c"] = df["k"] % 5
    df["big"] = np.where(df["v"] >= 500, "big", "norm")
    return df


QC = sc([0, 4], [X(949), X(1120)])
QCOL = alt.Scale(domain=["big", "norm"], range=["#cc00cc", YEL])
for vals, y0, y1 in [(sell_queue, 448.3, 523.3), (buy_queue, 570, 645)]:
    qd = queue_df(vals)
    layers.append(alt.Chart(qd).mark_text(align="right", baseline="middle", font=NUM, fontSize=14).encode(
        x=alt.X("c:Q", scale=QC, axis=None), y=alt.Y("r:Q", scale=sc([0, 5], [Y(y0), Y(y1)]), axis=None),
        text=alt.Text("v:Q", format="d"), color=alt.Color("big:N", scale=QCOL, legend=None)))

# watermark
layers.append(box(973, 1130, 598.5, 650, "#000000"))
layers.append(text_at("乐淘公式网", 1050, 617, "#ffffff", size=21, align="center", weight="bold"))
layers.append(text_at("www.60lt.com", 1046, 635.5, "#ffffff", size=14, font="Liberation Serif",
                      align="center", weight="bold"))

chart = alt.layer(*layers).resolve_scale(
    x="independent", y="independent", color="independent"
).properties(
    width=W, height=H, padding=0, background=BG,
    autosize=alt.AutoSizeParams(type="none")
).configure_view(strokeWidth=0)

chart.save("out.html", embed_options={"renderer": "svg", "actions": False})
